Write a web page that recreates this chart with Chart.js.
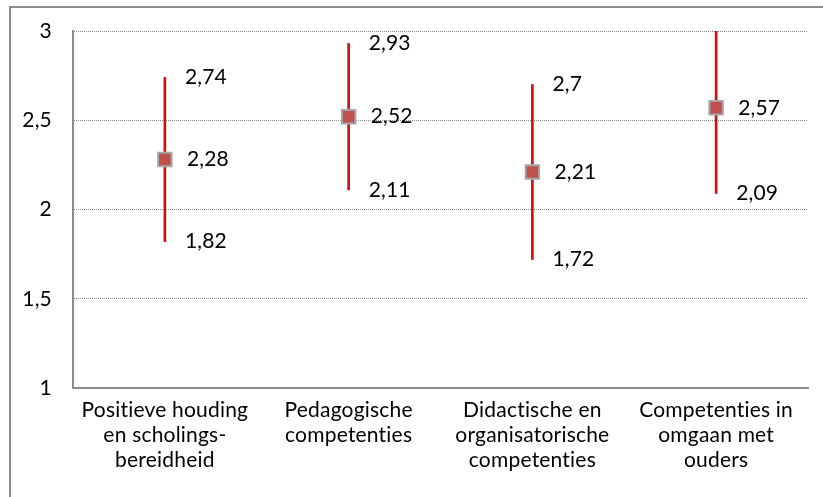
<!DOCTYPE html>
<html>
<head>
<meta charset="utf-8">
<script src="https://cdn.jsdelivr.net/npm/chart.js@4"></script>
<style>
  html, body { margin: 0; padding: 0; background: #fff; overflow: hidden; }
  #wrap { position: relative; width: 823px; height: 497px; }
  #frame { position: absolute; left: 9px; top: 6px; width: 830px; height: 520px;
           border-left: 2px solid #8c8c8c; border-top: 2px solid #8c8c8c; }
  canvas { position: absolute; left: 0; top: 0; }
</style>
</head>
<body>
<div id="wrap">
  <div id="frame"></div>
  <canvas id="myChart" width="823" height="497"></canvas>
</div>
<script>
// categories (wrapped the way the original shows them)
const categories = [
    ["Positieve houding", "en scholings-", "bereidheid"],
    ["Pedagogische", "competenties"],
    ["Didactische en", "organisatorische", "competenties"],
    ["Competenties in", "omgaan met", "ouders"]
];
const highs = [2.74, 2.93, 2.7, 3.05];
const means = [2.28, 2.52, 2.21, 2.57];
const lows  = [1.82, 2.11, 1.72, 2.09];
const yTicks = [1, 1.5, 2, 2.5, 3];

const FONT = "Lato, 'Open Sans', sans-serif";
const SIZE = 21;
const fmt = v => String(v).replace(".", ",");

// no "ti" ligatures, like the original font
const noLigatures = {
    id: "noLigatures",
    beforeDraw(chart) { chart.ctx.letterSpacing = "0.2px"; }
};

// --- value labels right of each marker ---
const valueLabels = {
    id: "valueLabels",
    afterDatasetsDraw(chart) {
        const ctx = chart.ctx;
        const xs = chart.scales.x, ys = chart.scales.y;
        ctx.save();
        ctx.font = SIZE + "px " + FONT;
        ctx.fillStyle = "#000";
        ctx.textAlign = "left";
        ctx.textBaseline = "middle";
        categories.forEach((c, i) => {
            const x = xs.getPixelForValue(i);
            [[highs[i], 20], [means[i], 22], [lows[i], 20]].forEach(([v, dx]) => {
                if (v > ys.max || v < ys.min) return;
                ctx.fillText(fmt(v), x + dx, ys.getPixelForValue(v));
            });
        });
        ctx.restore();
    }
};

const ctx = document.getElementById("myChart").getContext("2d");
new Chart(ctx, {
    data: {
        labels: categories,
        datasets: [
            {
                type: "bar",
                data: lows.map((l, i) => [l, highs[i]]),
                backgroundColor: "#cc1010",
                borderWidth: 0,
                barThickness: 2,
                order: 2
            },
            {
                type: "line",
                data: means,
                showLine: false,
                pointStyle: "rect",
                pointRadius: 9.5,
                pointHoverRadius: 9.5,
                pointBackgroundColor: "#c0504d",
                pointBorderColor: "#a6a6a6",
                pointBorderWidth: 2,
                order: 1
            }
        ]
    },
    options: {
        responsive: false,
        animation: false,
        layout: { padding: { top: 31, right: 15, left: 0, bottom: 0 } },
        plugins: { legend: { display: false }, tooltip: { enabled: false } },
        scales: {
            x: {
                grid: { display: false, drawTicks: false },
                border: { color: "#8c8c8c", width: 2 },
                ticks: {
                    color: "#000",
                    padding: 10,
                    maxRotation: 0,
                    autoSkip: false,
                    font: { family: FONT, size: SIZE, lineHeight: 1.19 }
                },
                afterFit(s) { s.height = 109; }
            },
            y: {
                min: 1, max: 3,
                afterBuildTicks(s) { s.ticks = yTicks.map(v => ({ value: v })); },
                grid: {
                    color: "#8c8c8c",
                    lineWidth: 1,
                    drawTicks: false
                },
                border: { color: "#8c8c8c", width: 2, dash: [1, 1] },
                ticks: {
                    color: "#000",
                    padding: 21,
                    font: { family: FONT, size: SIZE },
                    callback: v => fmt(v)
                },
                afterFit(s) { s.width = 73; s.paddingTop = 0; s.paddingBottom = 0; }
            }
        }
    },
    plugins: [noLigatures, valueLabels]
});
</script>
</body>
</html>
